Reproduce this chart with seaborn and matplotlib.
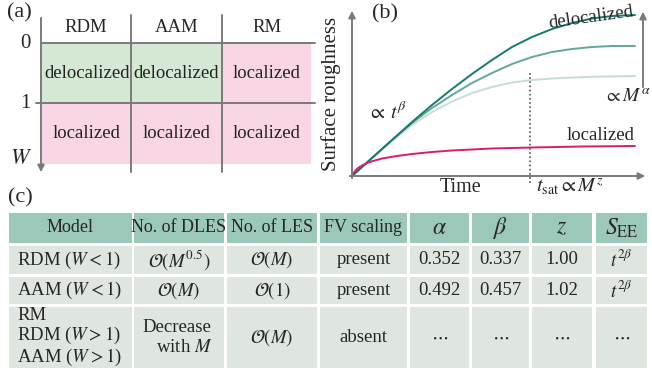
import numpy as np
import pandas as pd
import seaborn as sns
import matplotlib.pyplot as plt
from matplotlib.patches import Rectangle
from matplotlib.colors import ListedColormap

sns.set_theme(style="white")
plt.rcParams['font.family'] = ['Liberation Serif', 'DejaVu Serif']
plt.rcParams['mathtext.fontset'] = 'stix'

# ---- panel (a): phase table ----
models_a = ["RDM", "AAM", "RM"]
w_ticks = ["0", "1"]
phase = [[1, 1, 0],
         [0, 0, 0]]  # 1 = delocalized, 0 = localized
phase_txt = [["delocalized", "delocalized", "localized"],
             ["localized", "localized", "localized"]]

# ---- panel (b): sketch curves (time, roughness) ----
t_pts = [0, 20, 40, 60, 80, 100, 120, 140, 160, 180, 200, 220, 240, 260, 283]
deloc_hi = [0, 18, 36, 54, 71, 87, 102, 116, 129, 139, 147, 153, 157.5, 160, 161]
deloc_mid = [0, 18, 36, 53, 68, 81, 93, 103, 112, 119, 124, 127, 129, 130, 130]
deloc_lo = [0, 18, 35, 51, 64, 74.5, 83, 89, 93.5, 96, 97.5, 98.5, 99.2, 99.6, 100]
t_loc = [0, 3, 6, 10, 15, 21, 30, 45, 60, 80, 100, 140, 180, 230, 283]
loc = [0, 5, 8, 10.5, 13, 15, 17.5, 20, 22, 24, 25.5, 27.5, 28.5, 29.5, 30]

# ---- panel (c): summary table ----
col_names = ["Model", "No. of DLES", "No. of LES", "FV scaling",
             r"$\alpha$", r"$\beta$", r"$z$", r"$S_{\rm EE}$"]
models_c = ["RDM ($W<1$)", "AAM ($W<1$)", "RM\nRDM ($W>1$)\nAAM ($W>1$)"]
dles = [r"$\mathcal{O}(M^{0.5})$", r"$\mathcal{O}(M)$", "Decrease\n   with $M$"]
les = [r"$\mathcal{O}(M)$", r"$\mathcal{O}(1)$", r"$\mathcal{O}(M)$"]
fv = ["present", "present", "absent"]
alpha = ["0.352", "0.492", r"$\cdots$"]
beta = ["0.337", "0.457", r"$\cdots$"]
zexp = ["1.00", "1.02", r"$\cdots$"]
see = [r"$t^{2\beta}$", r"$t^{2\beta}$", r"$\cdots$"]

W, H = 652, 372
fig = plt.figure(figsize=(W / 100, H / 100), dpi=100)


def frac(x0, y0, x1, y1):
    return [x0 / W, 1 - y1 / H, (x1 - x0) / W, (y1 - y0) / H]


# panel (a) heatmap
ax_a = fig.add_axes(frac(42, 43, 311, 164))
sns.heatmap(np.array(phase), ax=ax_a, cmap=ListedColormap(["#f8d6e6", "#d5e8d4"]),
            cbar=False, annot=np.array(phase_txt), fmt="",
            annot_kws={"fontsize": 13.5, "color": "#222222"},
            xticklabels=False, yticklabels=False)

# panel (b) curves
ax_b = fig.add_axes(frac(352, 5, 652, 176))
df = pd.concat([
    pd.DataFrame({"time": t_pts, "rough": deloc_lo, "curve": "lo"}),
    pd.DataFrame({"time": t_pts, "rough": deloc_mid, "curve": "mid"}),
    pd.DataFrame({"time": t_pts, "rough": deloc_hi, "curve": "hi"}),
    pd.DataFrame({"time": t_loc, "rough": loc, "curve": "loc"}),
])
pal = {"lo": "#c3ded8", "mid": "#63a69b", "hi": "#157a6f", "loc": "#d91b72"}
sns.lineplot(data=df, x="time", y="rough", hue="curve", palette=pal, ax=ax_b,
             legend=False, linewidth=1.4, sort=False)
ax_b.set_xlim(0, 300)
ax_b.set_ylim(0, 171)
ax_b.axis("off")

# overlay for drawing in pixel coordinates
ax = fig.add_axes([0, 0, 1, 1])
ax.set_xlim(0, W)
ax.set_ylim(H, 0)
ax.axis("off")
ax.patch.set_alpha(0)

gray = "#7a7a7a"
# panel (a) grid
for x in [131, 222]:
    ax.plot([x, x], [15, 172], color=gray, lw=1.4)
ax.plot([41, 315], [43, 43], color=gray, lw=1.4)
ax.plot([36, 315], [103, 103], color=gray, lw=1.4)
ax.annotate("", xy=(41, 175), xytext=(41, 15),
            arrowprops=dict(arrowstyle="-|>", color=gray, lw=1.4, mutation_scale=10))
ax.text(19, 13, "(a)", fontsize=16, ha="center", va="center")
for i, m in enumerate(models_a):
    ax.text(86 + i * 90.5, 27, m, fontsize=13.5, ha="center", va="center")
ax.text(31, 43, w_ticks[0], fontsize=15, ha="right", va="center")
ax.text(31, 103, w_ticks[1], fontsize=15, ha="right", va="center")
ax.text(21, 160, "$W$", fontsize=16, ha="center", va="center")

# panel (b) axes and labels
ax.annotate("", xy=(352, 8), xytext=(352, 181),
            arrowprops=dict(arrowstyle="-|>", color=gray, lw=1.4, mutation_scale=10))
ax.annotate("", xy=(648, 176), xytext=(347, 176),
            arrowprops=dict(arrowstyle="-|>", color=gray, lw=1.4, mutation_scale=10))
ax.annotate("", xy=(643, 9), xytext=(643, 90),
            arrowprops=dict(arrowstyle="-|>", color=gray, lw=1.4, mutation_scale=10))
ax.plot([530, 530], [73, 185], color="#555555", lw=1.2, ls=(0, (1, 1.5)))
ax.text(385, 14, "(b)", fontsize=16, ha="center", va="center")
ax.text(331, 94, "Surface roughness", fontsize=15, rotation=90, ha="center", va="center")
ax.text(461, 187, "Time", fontsize=14.5, ha="center", va="center")
ax.text(570, 187, r"$t_{\rm sat} \propto M^{z}$", fontsize=14.5, ha="center", va="center")
ax.text(368, 112, r"$\propto\, t^{\beta}$", fontsize=14.5, ha="left", va="center")
ax.text(604, 97, r"$\propto M^{\alpha}$", fontsize=14, ha="left", va="center")
ax.text(591, 18, "delocalized", fontsize=13.5, rotation=8, ha="center", va="center")
ax.text(601, 136, "localized", fontsize=13.5, ha="center", va="center")

# panel (c) table
ax.text(20, 198, "(c)", fontsize=16, ha="center", va="center")
cols = [(9, 132), (134, 224), (227, 317), (320, 407), (410, 469), (472, 529), (532, 592), (596, 647)]
rows = [(213, 243), (246, 274), (277, 304), (307, 368)]
body = [models_c, dles, les, fv, alpha, beta, zexp, see]
for j, (x0, x1) in enumerate(cols):
    for i, (y0, y1) in enumerate(rows):
        fc = "#9cc8ba" if i == 0 else "#dfe5df"
        ax.add_patch(Rectangle((x0, y0), x1 - x0, y1 - y0, facecolor=fc, edgecolor="none"))
        yc = (y0 + y1) / 2
        if i == 0:
            fs = 17 if j >= 4 else 13
            ax.text((x0 + x1) / 2, yc, col_names[j], fontsize=fs, ha="center", va="center")
            continue
        txt = body[j][i - 1]
        if j == 0:
            ax.text(17, yc, txt, fontsize=13.5, ha="left", va="center", linespacing=1.05)
        elif j == 1 and i == 3:
            ax.text(142, yc, txt, fontsize=13.5, ha="left", va="center", linespacing=1.25)
        else:
            ax.text((x0 + x1) / 2, yc, txt, fontsize=13.5, ha="center", va="center")

fig.savefig("out.png", dpi=100)
